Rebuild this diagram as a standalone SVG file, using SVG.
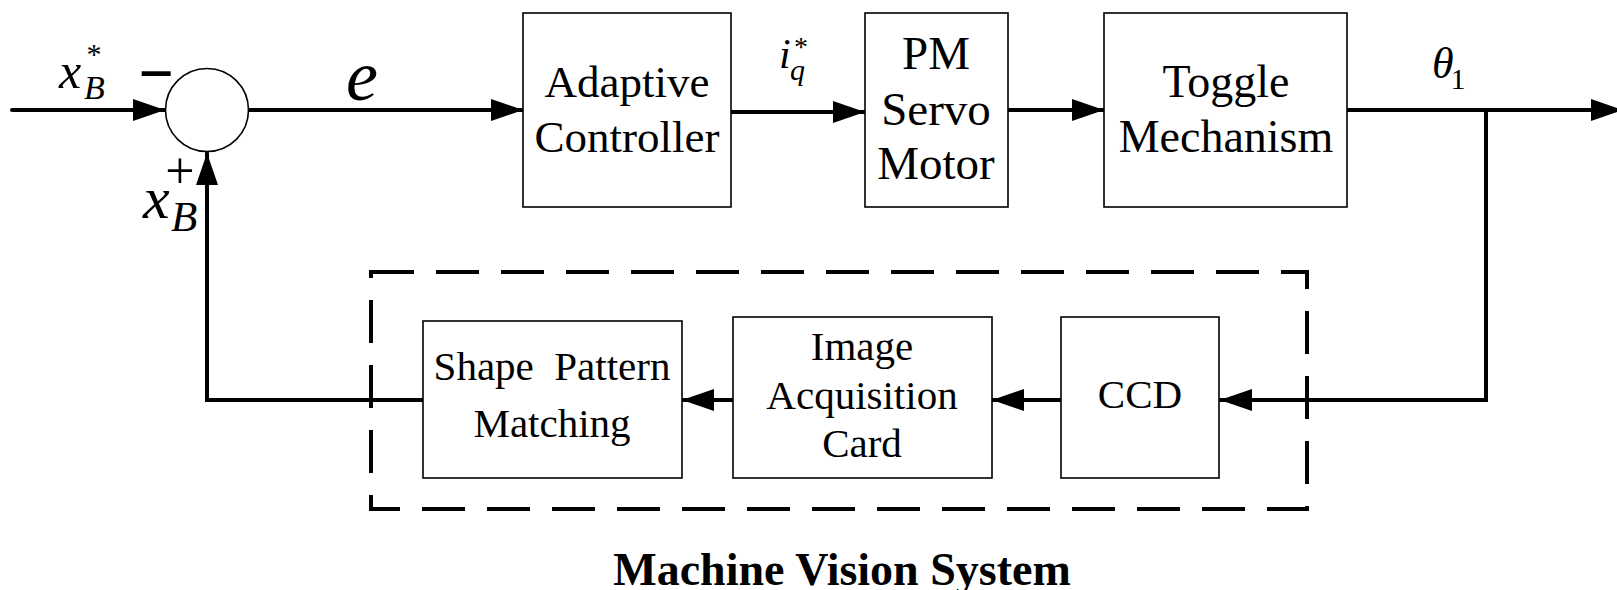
<svg xmlns="http://www.w3.org/2000/svg" width="1617" height="590" viewBox="0 0 1617 590">
<style>
.box{fill:#fff;stroke:#000;stroke-width:1.6}
.t{font-family:"Liberation Serif","Times New Roman",serif;fill:#000;text-anchor:middle}
.m{font-family:"Liberation Serif","Times New Roman",serif;font-style:italic;fill:#000}
.c{fill:none;stroke:#000;stroke-width:4;stroke-linecap:round;stroke-linejoin:miter}
</style>
<defs>
<marker id="ah" markerUnits="userSpaceOnUse" markerWidth="33" markerHeight="22" refX="32" refY="11" orient="auto">
<path d="M0,0 L32,11 L0,22 z" fill="#000"/>
</marker>
</defs>
<rect width="1617" height="590" fill="#fff"/>
<g id="connectors">
<path class="c" d="M12,110 H165" marker-end="url(#ah)"/>
<path class="c" d="M248,110 H523" marker-end="url(#ah)"/>
<path class="c" d="M731,112 H865" marker-end="url(#ah)"/>
<path class="c" d="M1008,110 H1104" marker-end="url(#ah)"/>
<path class="c" d="M1347,110 H1623" marker-end="url(#ah)"/>
<path class="c" d="M1486,110 V400 H1220" marker-end="url(#ah)"/>
<path class="c" d="M1061,400 H992" marker-end="url(#ah)"/>
<path class="c" d="M733,400 H682" marker-end="url(#ah)"/>
<path class="c" d="M423,400 H207 V153" marker-end="url(#ah)"/>
</g>
<g id="mvs">
<rect x="371" y="272" width="936" height="237" fill="none" stroke="#000" stroke-width="4" stroke-dasharray="43 22"/>
<text class="t" x="842" y="585" font-size="46" font-weight="bold">Machine Vision System</text>
</g>
<g id="sum">
<circle cx="207" cy="110" r="41.5" fill="#fff" stroke="#000" stroke-width="1.6"/>
<text class="t" x="156" y="93" font-size="58" stroke="#000" stroke-width="2">−</text>
<text class="t" x="180" y="188" font-size="52">+</text>
<text class="m" x="59" y="88" font-size="50">x</text>
<text class="m" x="84" y="99" font-size="34">B</text>
<text class="t" x="94" y="64" font-size="30">*</text>
<text class="m" x="143" y="218" font-size="60">x</text>
<text class="m" x="171" y="231" font-size="43">B</text>
</g>
<g id="e-label"><text class="m" x="346" y="100" font-size="72">e</text></g>
<g id="adaptive">
<rect class="box" x="523" y="13" width="208" height="194"/>
<text class="t" x="627" y="97" font-size="45">Adaptive</text>
<text class="t" x="627" y="152" font-size="45">Controller</text>
</g>
<g id="iq-label">
<text class="m" x="779" y="68" font-size="42">i</text>
<text class="m" x="790" y="80" font-size="30">q</text>
<text class="t" x="801" y="56" font-size="28">*</text>
</g>
<g id="pm">
<rect class="box" x="865" y="13" width="143" height="194"/>
<text class="t" x="936" y="69" font-size="47">PM</text>
<text class="t" x="936" y="125" font-size="47">Servo</text>
<text class="t" x="936" y="179" font-size="47">Motor</text>
</g>
<g id="toggle">
<rect class="box" x="1104" y="13" width="243" height="194"/>
<text class="t" x="1226" y="97" font-size="46">Toggle</text>
<text class="t" x="1226" y="152" font-size="46">Mechanism</text>
</g>
<g id="theta-label">
<text class="m" x="1432" y="78" font-size="44">θ</text>
<text class="t" x="1458" y="89" font-size="30">1</text>
</g>
<g id="shape">
<rect class="box" x="423" y="321" width="259" height="157"/>
<text class="t" x="552" y="380" font-size="41" xml:space="preserve">Shape  Pattern</text>
<text class="t" x="552" y="437" font-size="41">Matching</text>
</g>
<g id="image">
<rect class="box" x="733" y="317" width="259" height="161"/>
<text class="t" x="862" y="360" font-size="41">Image</text>
<text class="t" x="862" y="409" font-size="41">Acquisition</text>
<text class="t" x="862" y="457" font-size="41">Card</text>
</g>
<g id="ccd">
<rect class="box" x="1061" y="317" width="158" height="161"/>
<text class="t" x="1140" y="408" font-size="41">CCD</text>
</g>
</svg>
